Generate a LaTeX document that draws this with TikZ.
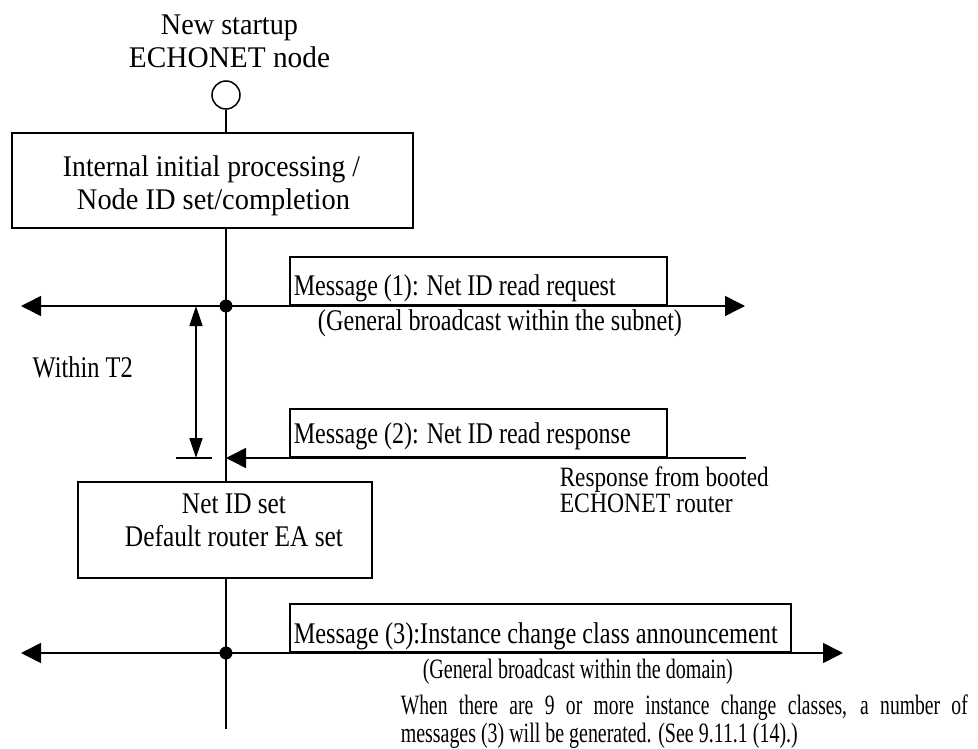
\documentclass[tikz,border=0pt]{standalone}
\usepackage{fontspec}
\setmainfont{Liberation Serif}
\newfontfamily\condfont[FakeStretch=0.7]{Liberation Serif}
\usetikzlibrary{arrows.meta}
\newcommand\fw[2]{\resizebox{#1pt}{\height}{#2}}
\begin{document}
\begin{tikzpicture}[x=1pt,y=-1pt,line width=1.5pt,
  every node/.style={font=\fontsize{30}{33}\selectfont, inner sep=0pt},
  txt/.style={anchor=base, inner sep=0pt},
  txtl/.style={anchor=base west, inner sep=0pt},
  procbox/.style={draw, line width=1.6pt, inner sep=0pt},
  msgbox/.style={draw, line width=1.6pt, inner sep=0pt, anchor=south west, minimum height=48pt},
  dot/.style={circle, fill, minimum size=13pt, inner sep=0pt},
  bigtip/.style={-{Triangle[length=20pt,width=20pt]}},
  bothtips/.style={{Triangle[length=20pt,width=20pt]}-{Triangle[length=20pt,width=20pt]}},
  slimtips/.style={{Triangle[length=20pt,width=13pt]}-{Triangle[length=20pt,width=13pt]}}]
\useasboundingbox (0,0) rectangle (978,749);

% start node
\node[txt] (t1) at (229.5,35) {\fw{137}{New startup}};
\node[txt] (t2) at (229.5,68) {\fw{201}{ECHONET node}};
\node[circle, draw, minimum size=28pt, inner sep=0pt] (start) at (226,95) {};

% processing boxes
\node[procbox, minimum width=401pt, minimum height=95pt] (proc) at (212.5,180.5) {};
\node[txt] (p1) at (211.5,176) {\fw{297}{Internal initial processing /}};
\node[txt] (p2) at (213.5,209) {\fw{273}{Node ID set/completion}};

\node[procbox, minimum width=294pt, minimum height=96pt] (netid) at (225,530) {};
\node[txt] (n1) at (234,513) {\fw{104}{Net ID set}};
\node[txt] (n2) at (234,546) {\fw{218}{Default router EA set}};

% vertical life line
\coordinate (vend) at (226,729);
\draw (start.south) -- (start.south |- proc.north);
\draw (start |- proc.south) -- (start |- netid.north);
\draw (start |- netid.south) -- (vend);

% message (1)
\node[dot] (d1) at (226,306) {};
\coordinate (l1) at (21,306);
\coordinate (r1) at (745,306);
\draw[bothtips] (l1) -- (r1);
\node[msgbox, minimum width=377pt] (m1) at (289,306) {};
\node[txtl] (m1t) at (293,295) {\fw{322}{Message (1): Net ID read request}};
\node[txt] (b1) at (500,330) {\fw{364}{(General broadcast within the subnet)}};

% within T2
\node[txtl] (w) at (32,377) {\fw{100}{Within T2}};
\coordinate (ta) at (196,306);
\coordinate (tb) at (196,458);
\draw[slimtips] (ta) -- (tb);
\coordinate (k1) at (176,458);
\coordinate (k2) at (212,458);
\draw (k1) -- (k2);

% message (2)
\coordinate (r2) at (746,458);
\draw[bigtip] (r2) -- (r2 -| start);
\node[msgbox, minimum width=377pt] (m2) at (289,458) {};
\node[txtl] (m2t) at (293,443) {\fw{337}{Message (2): Net ID read response}};
\node[txtl, font=\fontsize{28}{30}\selectfont] (rs1) at (559,486) {\fw{209}{Response from booted}};
\node[txtl, font=\fontsize{28}{30}\selectfont] (rs2) at (559,512) {\fw{173}{ECHONET router}};

% message (3)
\node[dot] (d3) at (226,653) {};
\coordinate (l3) at (21,653);
\coordinate (r3) at (843,653);
\draw[bothtips] (l3) -- (r3);
\node[msgbox, minimum width=501pt] (m3) at (289,653) {};
\node[txtl] (m3t) at (293,643) {\fw{484}{Message (3):Instance change class announcement}};
\node[txtl, font=\fontsize{28}{30}\selectfont] (b3) at (422,678) {\fw{310}{(General broadcast within the domain)}};
\node[txtl, font=\fontsize{28}{30}\selectfont] (c1) at (400,714) {\makebox[567pt][s]{\condfont When there are 9 or more instance change classes, a number of}};
\node[txtl, font=\fontsize{28}{30}\selectfont] (c2) at (400,742) {\fw{397}{messages (3) will be generated. (See 9.11.1 (14).)}};
\end{tikzpicture}
\end{document}
